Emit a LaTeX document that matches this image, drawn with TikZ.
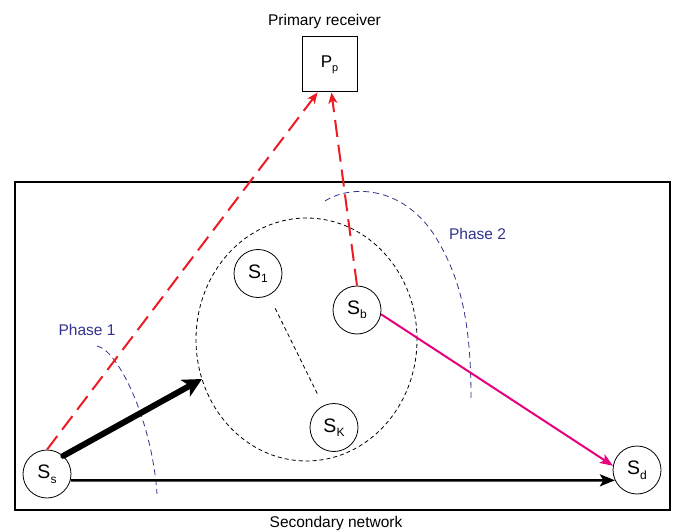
\documentclass[tikz,border=0pt]{standalone}
\usepackage{fontspec}
\setmainfont{Liberation Sans}
\usetikzlibrary{arrows.meta}
\definecolor{phred}{RGB}{237,28,36}
\definecolor{phblue}{RGB}{49,51,140}
\definecolor{phmag}{RGB}{230,0,126}
\newcommand{\snlabel}[1]{\fontsize{19.5}{19.5}\selectfont S\raisebox{-4.5pt}{\fontsize{12}{12}\selectfont #1}}
\tikzset{
  snode/.style={circle, draw, line width=0.8pt, minimum size=48pt, inner sep=0pt},
  txt/.style={font=\fontsize{15.5}{15.5}\selectfont, inner sep=0pt},
  phasetxt/.style={txt, text=phblue},
  reddash/.style={draw=phred, line width=2pt, dash pattern=on 17pt off 8pt,
     -{Stealth[length=11pt, width=9pt, inset=3pt]}},
  phasearc/.style={draw=phblue, line width=0.8pt, dash pattern=on 6pt off 4pt},
  blackdash/.style={line width=0.8pt, dash pattern=on 4pt off 3pt}
}
\begin{document}
\begin{tikzpicture}[x=1pt, y=-1pt]
\useasboundingbox (0,0) rectangle (675,532);
\fill[white] (0,0) rectangle (675,532);
% texts
\node[txt, anchor=base] (prt) at (324.5,26) {Primary receiver};
\node[txt, anchor=base] (snt) at (336,527.5) {Secondary network};
\node[phasetxt, anchor=base] (ph1) at (87,335) {Phase 1};
\node[phasetxt, anchor=base] (ph2) at (477.5,240) {Phase 2};
% primary receiver box
\node[draw, line width=1pt, minimum width=55pt, minimum height=55pt, inner sep=0pt] (Pp) at (329.5,64.5)
  {\fontsize{17}{17}\selectfont P\raisebox{-4pt}{\fontsize{11}{11}\selectfont p}};
% secondary network box
\draw[line width=1.1pt] (15,182) rectangle (670,510);
% cluster ellipse
\draw[blackdash] (306.5,339.5) ellipse [x radius=110.5pt, y radius=121.5pt];
% nodes
\node[snode] (Ss) at (47,474) {\snlabel{s}};
\node[snode] (Sd) at (637,470) {\snlabel{d}};
\node[snode] (S1) at (258,273.5) {\snlabel{1}};
\node[snode] (Sb) at (357,310) {\snlabel{b}};
\node[snode] (SK) at (334,427.5) {\snlabel{K}};
\coordinate (tip) at (202,379);
% dashed S1-SK
\draw[blackdash, shorten <=14.5pt, shorten >=12pt] (S1) -- (SK);
% phase arcs
\draw[phasearc] (97,346) .. controls (118,350) and (152,420) .. (157,494);
\draw[phasearc] (325,201) .. controls (350,185) and (400,185) .. (433,233)
   .. controls (460,275) and (471,320) .. (471,398);
% red dashed to primary
\draw[reddash] (Ss.north) -- (Pp.-113);
\draw[reddash] (Sb.north) -- (Pp.-86);
% black arrows
\draw[line width=6pt, -{Stealth[length=19pt, width=19pt, inset=5pt]}, line cap=round] (Ss.48) -- (tip);
\draw[line width=2.5pt, -{Stealth[length=15pt, width=12pt, inset=3.5pt]}] (Ss.-15) -- (Sd.205);
% magenta
\draw[phmag, line width=2pt, -{Stealth[length=13pt, width=10pt, inset=3pt]}] (Sb.-10) -- (Sd.170);
\end{tikzpicture}
\end{document}
